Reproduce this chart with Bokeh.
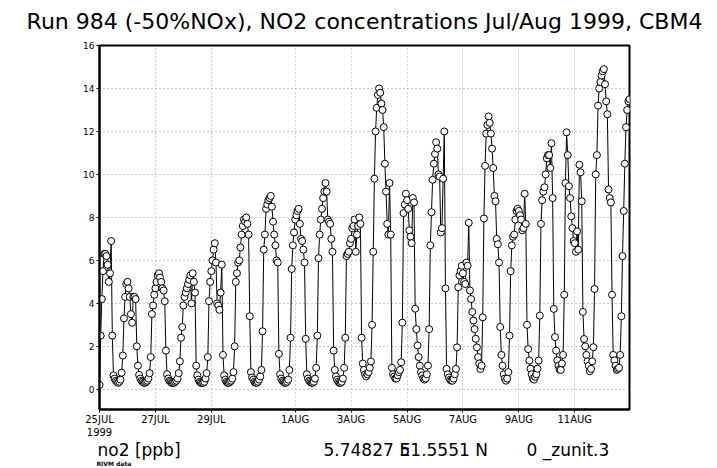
from bokeh.plotting import figure
from bokeh.models import Range1d, FixedTicker, Label
from bokeh.layouts import column
from bokeh.embed import file_html
from bokeh.resources import INLINE

# ---- data: hourly NO2 [ppb], one list per day (25 JUL .. 12 AUG 1999) ----
day_25jul = [0.2, 2.5, 4.2, 5.5, 6.3, 6.3, 6.2, 5.8, 5.0, 5.4, 6.9, 2.5, 0.65, 0.5, 0.4, 0.35, 0.3, 0.35, 0.45, 0.77, 1.57, 3.3, 4.3, 4.9]
day_26jul = [5.0, 4.7, 4.3, 3.5, 3.1, 4.3, 4.3, 4.2, 2.0, 1.1, 0.67, 0.5, 0.4, 0.35, 0.3, 0.3, 0.35, 0.4, 0.5, 0.75, 1.5, 3.5, 3.9, 4.4]
day_27jul = [4.7, 5.0, 5.3, 5.4, 5.2, 5.0, 4.7, 4.6, 4.1, 1.8, 0.7, 0.5, 0.4, 0.35, 0.3, 0.3, 0.3, 0.35, 0.4, 0.5, 0.75, 1.3, 2.4, 2.9]
day_28jul = [3.9, 4.3, 4.5, 4.7, 4.9, 5.1, 5.3, 4.0, 5.4, 5.0, 4.5, 1.1, 0.65, 0.45, 0.35, 0.3, 0.3, 0.3, 0.35, 0.5, 0.75, 1.5, 4.1, 5.0]
day_29jul = [5.5, 6.0, 6.5, 6.8, 5.9, 4.0, 3.9, 3.7, 4.5, 5.8, 1.6, 0.65, 0.45, 0.35, 0.3, 0.3, 0.35, 0.4, 0.5, 0.8, 2.0, 5.0, 5.4, 5.9]
day_30jul = [6.0, 6.6, 7.2, 7.6, 7.9, 7.8, 8.0, 7.7, 7.2, 3.4, 0.8, 0.55, 0.45, 0.35, 0.3, 0.3, 0.35, 0.45, 0.6, 0.9, 2.7, 6.5, 7.2, 8.4]
day_31jul = [8.6, 8.8, 8.9, 9.0, 8.5, 7.8, 7.2, 6.7, 6.0, 5.9, 1.65, 0.7, 0.5, 0.4, 0.35, 0.3, 0.3, 0.35, 0.45, 0.9, 2.4, 5.6, 6.7, 7.3]
day_01aug = [7.9, 8.1, 8.3, 8.4, 7.7, 7.0, 6.9, 6.5, 5.9, 2.35, 0.7, 0.5, 0.4, 0.35, 0.3, 0.3, 0.35, 0.5, 1.0, 2.5, 6.1, 7.2, 7.9, 8.4]
day_02aug = [8.9, 9.2, 9.6, 9.2, 7.9, 7.8, 7.7, 7.0, 6.4, 1.8, 0.9, 0.6, 0.45, 0.35, 0.3, 0.3, 0.35, 0.5, 1.0, 2.4, 6.2, 6.3, 6.4, 6.8]
day_03aug = [7.0, 7.5, 7.6, 7.9, 6.4, 7.2, 7.6, 8.0, 7.7, 2.4, 1.2, 0.9, 0.7, 0.6, 0.7, 0.8, 1.0, 1.3, 3.0, 6.4, 9.8, 12.0, 13.1, 13.7]
day_04aug = [14.0, 13.8, 13.3, 13.0, 12.2, 10.5, 9.2, 7.7, 7.2, 9.6, 7.2, 1.0, 0.7, 0.6, 0.5, 0.5, 0.65, 0.8, 0.9, 1.26, 3.1, 8.2, 8.6, 9.1]
day_05aug = [8.8, 8.4, 7.4, 7.1, 6.8, 8.9, 8.7, 3.75, 2.8, 2.04, 1.5, 1.1, 0.8, 0.65, 0.5, 0.45, 0.5, 0.7, 1.1, 2.8, 6.7, 8.24, 9.75, 10.5]
day_06aug = [10.95, 11.5, 11.2, 10.0, 9.9, 7.3, 7.5, 9.8, 12.0, 4.7, 0.95, 0.7, 0.55, 0.45, 0.4, 0.4, 0.5, 0.7, 0.95, 1.95, 4.75, 5.3, 5.5, 5.75]
day_07aug = [5.4, 5.0, 4.9, 5.9, 5.75, 7.75, 4.6, 4.2, 3.6, 3.2, 2.8, 2.35, 1.95, 1.5, 1.2, 0.94, 1.1, 3.35, 7.95, 10.4, 11.9, 12.3, 12.7, 12.4]
day_08aug = [11.9, 11.2, 10.3, 9.0, 8.75, 7.0, 6.75, 5.9, 2.9, 1.6, 1.1, 0.7, 0.5, 0.4, 0.5, 0.8, 2.5, 5.5, 6.7, 7.1, 7.2, 7.9, 8.3, 8.4]
day_09aug = [8.3, 8.1, 7.9, 7.4, 7.5, 9.1, 7.7, 3.0, 1.87, 1.34, 0.96, 0.7, 0.5, 0.45, 0.58, 0.7, 0.96, 1.34, 3.43, 7.7, 8.8, 9.2, 9.4, 10.0]
day_10aug = [10.75, 10.9, 10.9, 10.3, 11.45, 8.9, 3.74, 2.43, 1.8, 1.35, 1.1, 0.92, 0.9, 1.2, 1.6, 4.4, 9.6, 11.96, 10.9, 9.45, 8.9, 8.05, 7.5, 6.9]
day_11aug = [6.8, 6.4, 7.35, 6.5, 10.45, 10.1, 8.75, 3.6, 2.34, 2.0, 1.6, 1.3, 1.1, 0.84, 0.95, 1.3, 1.96, 4.67, 10.0, 10.9, 13.2, 14.0, 14.3, 14.6]
day_12aug = [14.8, 14.9, 14.2, 13.4, 12.8, 9.3, 8.9, 8.7, 4.4, 1.6, 1.35, 1.1, 0.9, 0.95, 1.0, 1.6, 3.4, 6.2, 8.3, 10.5, 12.2, 13.0, 13.4, 13.5]

daily_series = [day_25jul, day_26jul, day_27jul, day_28jul, day_29jul, day_30jul, day_31jul,
                day_01aug, day_02aug, day_03aug, day_04aug, day_05aug, day_06aug, day_07aug,
                day_08aug, day_09aug, day_10aug, day_11aug, day_12aug]

# x tick positions in days since 25 JUL 1999 00Z, and their labels
tick_days = [0, 2, 4, 7, 9, 11, 13, 15, 17]
tick_labels = ["25JUL\n1999", "27JUL", "29JUL", "1AUG", "3AUG", "5AUG", "7AUG", "9AUG", "11AUG"]
y_ticks = [0, 2, 4, 6, 8, 10, 12, 14, 16]

title_text = "Run 984 (-50%NOx), NO2 concentrations Jul/Aug 1999, CBM4"
footer_texts = ["no2 [ppb]", "5.74827", "E", "51.5551 N", "0 _zunit.3", "RIVM  data"]

no2 = [v for day in daily_series for v in day]
t_days = [h / 24.0 for h in range(len(no2))]

FONT = "DejaVu Sans"
W = 709
H0 = 35                      # header strip (page rows 0..35)
H1 = 440 - H0                # main figure (page rows 35..440)
H2 = 468 - 440               # footer strip (page rows 440..468)
LEFT, TOP, FW, FH = 99, 45 - H0, 530, 366


def strip(height, y_top):
    s = figure(width=W, height=height, output_backend="svg", toolbar_location=None,
               x_range=Range1d(0, W), y_range=Range1d(y_top + height, y_top),
               x_axis_type=None, y_axis_type=None,
               min_border_left=0, min_border_right=0, min_border_top=0, min_border_bottom=0)
    s.frame_align = False
    s.outline_line_color = None
    s.background_fill_color = "white"
    s.border_fill_color = "white"
    s.xgrid.visible = False
    s.ygrid.visible = False
    return s


def put(fig, x, y, text, size, style="normal", align="left"):
    fig.add_layout(Label(x=x, y=y, text=text, text_font=FONT, text_font_size=size,
                         text_font_style=style, text_color="black",
                         text_align=align, text_baseline="middle"))


# header with the title
hdr = strip(H0, 0)
put(hdr, 364, 21, title_text, "22px", align="center")

# main plot
p = figure(width=W, height=H1, output_backend="svg", toolbar_location=None,
           x_range=Range1d(0, (len(no2) - 1) / 24.0), y_range=Range1d(-0.94, 16),
           min_border_left=LEFT, min_border_right=W - LEFT - FW,
           min_border_top=TOP, min_border_bottom=H1 - TOP - FH)
p.frame_align = False
p.background_fill_color = "white"
p.border_fill_color = "white"
p.outline_line_color = "black"
p.outline_line_width = 2

p.xaxis.ticker = FixedTicker(ticks=tick_days)
p.xaxis.major_label_overrides = {d: lab for d, lab in zip(tick_days, tick_labels)}
p.yaxis.ticker = FixedTicker(ticks=y_ticks)
for ax in (p.xaxis, p.yaxis):
    ax.axis_line_color = "black"
    ax.axis_line_width = 2
    ax.major_tick_line_color = "black"
    ax.major_tick_in = 0
    ax.major_tick_out = 3
    ax.minor_tick_line_color = None
    ax.major_label_text_font = FONT
    ax.major_label_text_color = "black"
    ax.major_label_standoff = 2
p.xaxis.major_label_text_font_size = "10px"
p.xaxis.major_label_standoff = 1
p.yaxis.major_label_text_font_size = "9px"

p.xgrid.ticker = FixedTicker(ticks=tick_days)
p.ygrid.ticker = FixedTicker(ticks=y_ticks[:-1])
for g in (p.xgrid, p.ygrid):
    g.grid_line_color = "#9a9a9a"
    g.grid_line_dash = "1 3"
    g.grid_line_width = 1

p.line(t_days, no2, line_color="black", line_width=1)
p.scatter(t_days, no2, marker="circle", size=7, fill_color="white",
          line_color="black", line_width=1)

# footer strip
f = strip(H2, 440)
put(f, 97, 449, footer_texts[0], "17px")
put(f, 323, 449, footer_texts[1], "17px")
put(f, 399, 449, footer_texts[2], "17px")
put(f, 399, 449, footer_texts[3], "17px")
put(f, 526, 449, footer_texts[4], "17px")
put(f, 96, 463, footer_texts[5], "6px", style="bold")

open("out.html", "w").write(file_html(column(hdr, p, f, spacing=0), INLINE))
